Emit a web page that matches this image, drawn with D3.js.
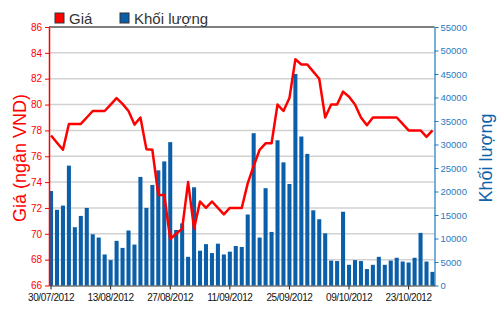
<!DOCTYPE html>
<html>
<head>
<meta charset="utf-8">
<script src="https://cdn.jsdelivr.net/npm/d3@7"></script>
<style>
  body { margin: 0; background: #fff; }
  svg { display: block; font-family: "Liberation Sans", Arial, sans-serif; }
</style>
</head>
<body>
<div id="chart"></div>
<script>
// Trading days (dd/mm, year 2012)
const dates = [
  '30/07','31/07','01/08','02/08','03/08','06/08','07/08','08/08','09/08','10/08',
  '13/08','14/08','15/08','16/08','17/08','20/08','21/08','22/08','23/08','24/08',
  '27/08','28/08','29/08','30/08','31/08','04/09','05/09','06/09','07/09','10/09',
  '11/09','12/09','13/09','14/09','17/09','18/09','19/09','20/09','21/09','24/09',
  '25/09','26/09','27/09','28/09','01/10','02/10','03/10','04/10','05/10','08/10',
  '09/10','10/10','11/10','12/10','15/10','16/10','17/10','18/10','19/10','22/10',
  '23/10','24/10','25/10','26/10','29/10'
];

// Giá (ngàn VND)
const prices = [
  77.6, 77.05, 76.5, 78.5, 78.5, 78.5, 79.0, 79.5, 79.5, 79.5,
  80.0, 80.5, 80.05, 79.5, 78.45, 79.0, 76.55, 76.5, 73.0, 73.0,
  69.6, 70.0, 70.4, 74.0, 70.4, 72.5, 72.0, 72.5, 72.0, 71.5,
  72.0, 72.0, 72.0, 73.9, 75.25, 76.5, 77.0, 77.0, 80.0, 79.5,
  80.5, 83.5, 83.1, 83.1, 82.55, 82.0, 79.0, 80.0, 80.0, 81.0,
  80.6, 80.0, 79.0, 78.4, 79.0, 79.0, 79.0, 79.0, 79.0, 78.5,
  78.0, 78.0, 78.0, 77.5, 78.0
];

// Khối lượng
const volumes = [
  20100, 16100, 17000, 25500, 12400, 14800, 16500, 10900, 10200, 6600,
  5400, 9500, 8000, 11700, 8700, 23100, 16500, 21400, 24500, 26400,
  30500, 11800, 13200, 6100, 20900, 7400, 8800, 6900, 8900, 6600,
  7200, 8400, 8200, 15100, 32400, 10200, 20700, 11400, 30900, 26200,
  21600, 45000, 31700, 28000, 16000, 14100, 11100, 5300, 5200, 15700,
  4400, 5400, 5200, 3500, 4400, 6100, 4400, 5300, 5900, 5100,
  4900, 5900, 11200, 5100, 2900
];

const priceTicks = [66, 68, 70, 72, 74, 76, 78, 80, 82, 84, 86];
const volumeTicks = [0, 5000, 10000, 15000, 20000, 25000, 30000, 35000, 40000, 45000, 50000, 55000];
const dateTicks = ['30/07', '13/08', '27/08', '11/09', '25/09', '09/10', '23/10'];

const width = 500, height = 312;
const margin = { top: 27, right: 65.5, bottom: 26.5, left: 49 };
const plotRight = width - margin.right;
const plotBottom = height - margin.bottom;

const red = '#ff0000';
const barBlue = '#0b5ea8';
const axisBlue = '#1f7bbf';

const svg = d3.select('#chart').append('svg')
  .attr('width', width)
  .attr('height', height);

// scales
const x = d3.scaleBand()
  .domain(dates)
  .range([margin.left, plotRight])
  .paddingInner(0.32)
  .paddingOuter(0);

const yPrice = d3.scaleLinear().domain([66, 86]).range([plotBottom, margin.top]);
const yVol = d3.scaleLinear().domain([0, 55000]).range([plotBottom, margin.top]);

// gridlines
svg.append('g')
  .selectAll('line')
  .data(priceTicks.slice(1, -1))
  .join('line')
  .attr('x1', margin.left)
  .attr('x2', plotRight)
  .attr('y1', d => yPrice(d))
  .attr('y2', d => yPrice(d))
  .attr('stroke', '#d2d2d2')
  .attr('stroke-width', 1.5);

// volume bars
svg.append('g')
  .selectAll('rect')
  .data(volumes)
  .join('rect')
  .attr('x', (d, i) => x(dates[i]))
  .attr('y', d => yVol(d))
  .attr('width', x.bandwidth())
  .attr('height', d => yVol(0) - yVol(d))
  .attr('fill', barBlue);

// price line
const line = d3.line()
  .x((d, i) => x(dates[i]) + x.bandwidth() / 2)
  .y(d => yPrice(d));

svg.append('path')
  .datum(prices)
  .attr('d', line)
  .attr('fill', 'none')
  .attr('stroke', red)
  .attr('stroke-width', 2.5)
  .attr('stroke-linejoin', 'round');

// top border
svg.append('line')
  .attr('x1', margin.left).attr('x2', plotRight)
  .attr('y1', margin.top).attr('y2', margin.top)
  .attr('stroke', '#555').attr('stroke-width', 1.5);

// left axis (price)
const gLeft = svg.append('g')
  .attr('transform', `translate(${margin.left},0)`)
  .call(d3.axisLeft(yPrice).tickValues(priceTicks).tickSize(4).tickSizeOuter(0).tickPadding(3));
gLeft.select('.domain').attr('stroke', red).attr('stroke-width', 1.5);
gLeft.selectAll('.tick line').attr('stroke', red);
gLeft.selectAll('.tick text')
  .attr('fill', red)
  .style('font-size', '10px')
  .style('font-family', '"Liberation Sans", Arial, sans-serif');

// right axis (volume)
const gRight = svg.append('g')
  .attr('transform', `translate(${plotRight},0)`)
  .call(d3.axisRight(yVol).tickValues(volumeTicks).tickFormat(d3.format('d')).tickSize(4).tickSizeOuter(0).tickPadding(2));
gRight.select('.domain').attr('stroke', axisBlue).attr('stroke-width', 1.2);
gRight.selectAll('.tick line').attr('stroke', axisBlue);
gRight.selectAll('.tick text')
  .attr('fill', axisBlue)
  .style('font-size', '9.5px')
  .style('font-family', '"Liberation Sans", Arial, sans-serif');

// bottom axis (dates)
const gBottom = svg.append('g')
  .attr('transform', `translate(0,${plotBottom})`)
  .call(d3.axisBottom(x).tickValues(dateTicks).tickFormat(d => d + '/2012').tickSize(4).tickSizeOuter(0).tickPadding(4));
gBottom.select('.domain').attr('stroke', '#333').attr('stroke-width', 1.2);
gBottom.selectAll('.tick line').attr('stroke', '#222');
gBottom.selectAll('.tick text')
  .attr('fill', '#111')
  .style('font-size', '10px')
  .style('letter-spacing', '-0.4px')
  .style('font-family', '"Liberation Sans", Arial, sans-serif');

// axis titles
svg.append('text')
  .attr('transform', `translate(26,158) rotate(-90)`)
  .attr('text-anchor', 'middle')
  .attr('fill', red)
  .style('font-size', '18px')
  .text('Giá (ngân VND)');

svg.append('text')
  .attr('transform', `translate(492,158) rotate(-90)`)
  .attr('text-anchor', 'middle')
  .attr('fill', '#0d62a8')
  .style('font-size', '18px')
  .text('Khối lượng');

// legend
const legend = [
  { label: 'Giá', color: red, x: 55 },
  { label: 'Khối lượng', color: barBlue, x: 120 }
];
const lg = svg.append('g').selectAll('g')
  .data(legend)
  .join('g')
  .attr('transform', d => `translate(${d.x},13)`);
lg.append('rect')
  .attr('width', 9).attr('height', 10)
  .attr('fill', d => d.color)
  .attr('stroke', '#333').attr('stroke-width', 1);
lg.append('text')
  .attr('x', 14).attr('y', 10.5)
  .attr('fill', '#333')
  .style('font-size', '15px')
  .text(d => d.label);
</script>
</body>
</html>
